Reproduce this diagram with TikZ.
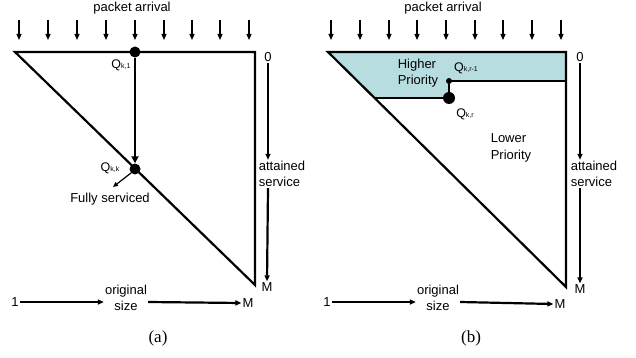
\documentclass[tikz,border=0pt]{standalone}
\usepackage{fontspec}
\setmainfont{Liberation Sans}
\newfontfamily\capfont{Liberation Serif}
\usetikzlibrary{arrows.meta}
\definecolor{hiprio}{RGB}{183,221,224}
\tikzset{
  lbl/.style={font=\fontsize{13}{16.5}\selectfont, inner sep=1pt},
  qlbl/.style={font=\fontsize{12.5}{13}\selectfont, inner sep=0pt},
  dot/.style={circle, fill=black, inner sep=0pt, minimum size=#1},
  rim/.style={line width=2.2pt, line join=miter},
  arr/.style={->, line width=1.2pt},
  axis/.style={->, line width=2.2pt},
}
\newcommand{\qsub}[1]{Q\raisebox{-0.5pt}{\fontsize{7}{7}\selectfont #1}}
\begin{document}
\begin{tikzpicture}[>={Triangle[length=6pt,width=5pt]}, x=1pt, y=-1pt]
		\useasboundingbox (0,0) rectangle (636,358);
		% ---------- (a)
		\node[lbl] (apkt) at (132,8) {packet arrival};
		\draw[arr] (19,20) -- (19,40);
		\draw[arr] (48,20) -- (48,40);
		\draw[arr] (77,20) -- (77,40);
		\draw[arr] (106,20) -- (106,40);
		\draw[arr] (135,20) -- (135,40);
		\draw[arr] (164,20) -- (164,40);
		\draw[arr] (192,20) -- (192,40);
		\draw[arr] (220,20) -- (220,40);
		\draw[arr] (249,20) -- (249,40);
		\coordinate (atl) at (15,52);
		\coordinate (atr) at (255,52);
		\coordinate (abr) at (255,285);
		\draw[rim] (atl) -- (atr) -- (abr) -- cycle;
		\node[dot=11pt] (qa1) at (135,52) {};
		\node[dot=11pt] (qak) at (135,169) {};
		\draw[->, line width=2.6pt, >={Triangle[length=7pt,width=7pt]}] (qa1) -- (qak);
		\node[qlbl] (la1) at (121,65) {\qsub{k,1}};
		\node[qlbl] (lak) at (110,168) {\qsub{k,k}};
		\node[lbl] (afull) at (110,199) {Fully serviced};
		\draw[->, line width=1.2pt, >={Triangle[length=5pt,width=4.5pt]}] (qak.south west) -- (113,187);
		\node[lbl] (a0) at (268,57) {0};
		\node[lbl, align=left] (aatt) at (282,174) {attained\\service};
		\node[lbl] (aM) at (267,287) {M};
		\draw[axis] (a0.south) -- (a0.south |- aatt.north);
		\draw[axis] (a0.south |- aatt.south) -- (aM.north);
		\node[lbl] (a1) at (15,302) {1};
		\node[lbl, align=center] (aorig) at (126,298) {original\\size};
		\node[lbl] (aMb) at (248,303) {M};
		\draw[axis] (a1.east) -- (a1 -| aorig.west);
		\draw[axis] (a1 -| aorig.east) -- (aMb.west);
		\node[font=\capfont\fontsize{17}{20}\selectfont] (acap) at (158,338) {(a)};
		% ---------- (b)
		\node[lbl] (bpkt) at (443,8) {packet arrival};
		\draw[arr] (331,20) -- (331,40);
		\draw[arr] (360,20) -- (360,40);
		\draw[arr] (389,20) -- (389,40);
		\draw[arr] (417,20) -- (417,40);
		\draw[arr] (446,20) -- (446,40);
		\draw[arr] (475,20) -- (475,40);
		\draw[arr] (503,20) -- (503,40);
		\draw[arr] (532,20) -- (532,40);
		\draw[arr] (561,20) -- (561,40);
		\coordinate (btl) at (328,52);
		\coordinate (btr) at (566,52);
		\coordinate (bbr) at (566,287);
		\coordinate (bcut) at (375,98);
		\fill[hiprio] (btl) -- (btr) -- (566,81) -- (449,81) -- (449,98) -- (bcut) -- cycle;
		\draw[rim] (btl) -- (btr) -- (bbr) -- cycle;
		\node[dot=6pt] (qr1) at (449,81) {};
		\node[dot=12pt] (qr) at (449,98) {};
		\draw[rim] (qr1.center) -- (qr1.center -| bbr);
		\draw[rim] (qr1) -- (qr);
		\draw[rim] (bcut) -- (qr);
		\node[lbl, align=left] (bhigh) at (418,73) {Higher\\Priority};
		\node[qlbl] (lr1) at (466,68) {\qsub{k,r-1}};
		\node[qlbl] (lr) at (465,114) {\qsub{k,r}};
		\node[lbl, align=left] (blow) at (511,148) {Lower\\Priority};
		\node[lbl] (b0) at (580,57) {0};
		\node[lbl, align=left] (batt) at (594,174) {attained\\service};
		\node[lbl] (bM) at (580,289) {M};
		\draw[axis] (b0.south) -- (b0.south |- batt.north);
		\draw[axis] (b0.south |- batt.south) -- (bM.north);
		\node[lbl] (b1) at (327,302) {1};
		\node[lbl, align=center] (borig) at (438,298) {original\\size};
		\node[lbl] (bMb) at (560,304) {M};
		\draw[axis] (b1.east) -- (b1 -| borig.west);
		\draw[axis] (b1 -| borig.east) -- (bMb.west);
		\node[font=\capfont\fontsize{17}{20}\selectfont] (bcap) at (471,338) {(b)};
\end{tikzpicture}
\end{document}
